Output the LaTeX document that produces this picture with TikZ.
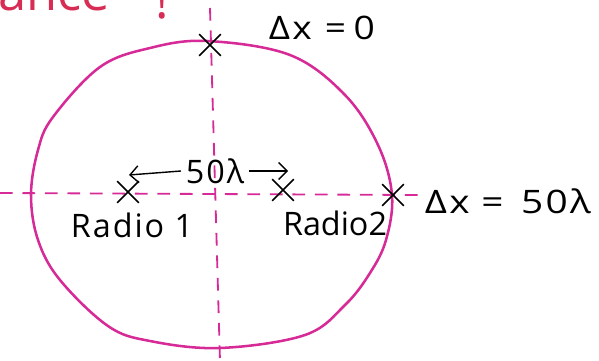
\documentclass[tikz,border=0pt]{standalone}
\usepackage{fontspec}
\setmainfont{Open Sans}
\usepackage{xcolor}
\usepackage{graphicx}
\usetikzlibrary{shapes.misc,arrows.meta,positioning}
\definecolor{pinkline}{RGB}{214,42,150}
\definecolor{redpen}{RGB}{215,45,85}
\newcommand{\widetext}[2]{\scalebox{#1}[1]{#2}}

\begin{document}
\begin{tikzpicture}[
            x=0.025cm, y=-0.025cm,
            every node/.style={font=\fontsize{23}{27}\selectfont\addfontfeatures{LetterSpace=6}},
            xmark/.style={draw, cross out, line width=1.2pt, minimum size=0.5cm, inner sep=0pt},
            axis/.style={draw=pinkline, line width=1.3pt, dash pattern=on 9pt off 7pt},
        ]
            \useasboundingbox (0,0) rectangle (599,361);
            % clipped heading
            \node[anchor=base west, inner sep=0pt, text=redpen, font=\fontsize{36}{40}\selectfont] (head) at (-2,11) {ance\hspace{0.9em}\raisebox{-0.2cm}{!}};
            % axes
            \coordinate (vtop) at (210,8);
            \coordinate (vbot) at (220,361);
            \coordinate (hleft) at (0,193);
            \coordinate (hright) at (418,195);
            \draw[axis] (vtop) -- (vbot);
            \draw[axis] (hleft) -- (hright);
            % the oval
            \draw[pinkline, line width=1.8pt] plot[smooth cycle, tension=0.6] coordinates {
                (207,41) (290,55) (345,95) (378,145) (392,195) (386,240)
                (370,273) (345,305) (305,335) (220,348) (150,341) (108,326)
                (60,280) (38,240) (31,195) (38,150) (53,117) (100,67) (150,48)};
            % marks
            \node[xmark] (top) at (210,45) {};
            \node[xmark] (r1) at (128,192) {};
            \node[xmark] (r2) at (283,190) {};
            \node[xmark] (edge) at (393,195) {};
            % labels
            \node[anchor=west] (dx0) at (264,28) {\widetext{1.15}{Δx\hspace{0.35em}=\hspace{0.2em}0}};
            \node[anchor=west] (dx50) at (420,201) {\widetext{1.2}{Δx\hspace{0.3em}=\hspace{0.45em}50λ}};
            \node (dist) at (215,171) {50λ};
            \coordinate (al) at (129,175);
            \coordinate (ar) at (288,171);
            \draw[-{Straight Barb[length=6pt]}, line width=1pt] (dist.west) -- (al);
            \draw[-{Straight Barb[length=6pt]}, line width=1pt] (dist.east) -- (ar);
            \node[below=0.12cm of r1, xshift=0.1cm] (lab1) {Radio 1};
            \node[below=0.12cm of r2, xshift=1.3cm, font=\fontsize{23}{27}\selectfont] (lab2) {Radio2};
        \end{tikzpicture}
\end{document}
